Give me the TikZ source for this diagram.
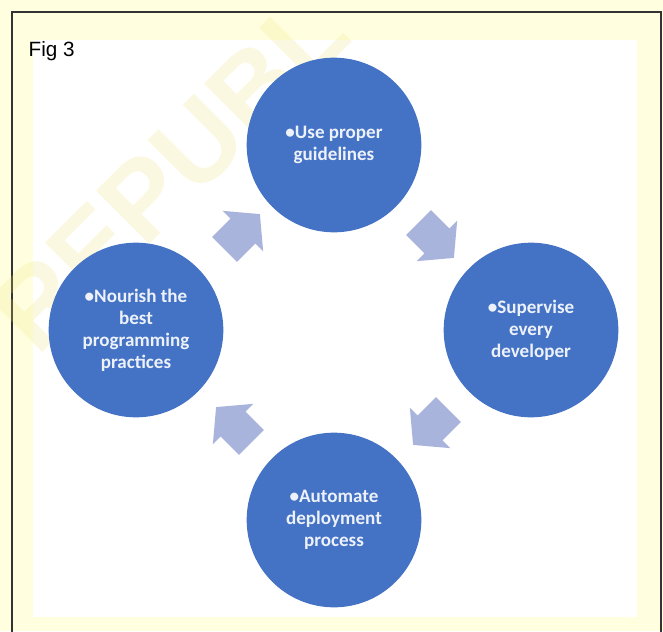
\documentclass[tikz,border=0pt]{standalone}
\usepackage{fontspec}
\setmainfont{Carlito}
\newfontfamily\figfont{Liberation Sans}
\usepackage{xcolor}
\usepackage{tikz}
\usetikzlibrary{shapes.arrows}

\definecolor{paper}{RGB}{255,255,224}
\definecolor{stageblue}{RGB}{68,114,196}
\definecolor{stagetext}{RGB}{236,241,250}
\definecolor{flowblue}{RGB}{168,180,220}
\definecolor{stamp}{RGB}{240,225,120}

\begin{document}
\begin{tikzpicture}[
        x=0.75pt, y=-0.75pt,
        stage/.style={circle, fill=stageblue, minimum size=131pt, inner sep=0pt,
                text=stagetext, align=center, font=\bfseries\fontsize{14.3}{16.5}\selectfont},
        flow/.style={single arrow, fill=flowblue, inner xsep=0pt, inner ysep=13pt,
                minimum height=37.5pt, single arrow head extend=8.25pt,
                single arrow tip angle=100},
        frame/.style={draw=black!80, line width=1pt},
        stampfont/.style={font=\figfont\bfseries\fontsize{82}{86}\selectfont}
    ]

    % --- FOND ---
    \useasboundingbox (0,0) rectangle (663,631);
    \fill[paper] (0,0) rectangle (663,631);
    \fill[white] (33,40) rectangle (637,617);
    \draw[frame] (12,640) |- (661,12) -- (661,640);

    % --- FILIGRANE ---
    \node[stampfont, rotate=45, text=stamp, opacity=0.22] (watermark) at (170,172) {REPUBL};

    \node[anchor=base west, font=\figfont\fontsize{15.5}{18}\selectfont] (figlabel) at (24,57) {Fig 3};

    % --- ETAPES ---
    \node[stage] (guide)     at (334,145) {\textbullet Use proper\\guidelines};
    \node[stage] (supervise) at (531,330) {\textbullet Supervise\\every\\developer};
    \node[stage] (automate)  at (334,520) {\textbullet Automate\\deployment\\process};
    \node[stage] (nourish)   at (136,330) {\textbullet Nourish the\\best\\programming\\practices};

    % --- FLECHES DU CYCLE ---
    \node[flow, rotate=45]   (f1) at (237,237) {};
    \node[flow, rotate=-45]  (f2) at (431,235) {};
    \node[flow, rotate=-135] (f3) at (436,422) {};
    \node[flow, rotate=135]  (f4) at (239,430) {};

\end{tikzpicture}
\end{document}
